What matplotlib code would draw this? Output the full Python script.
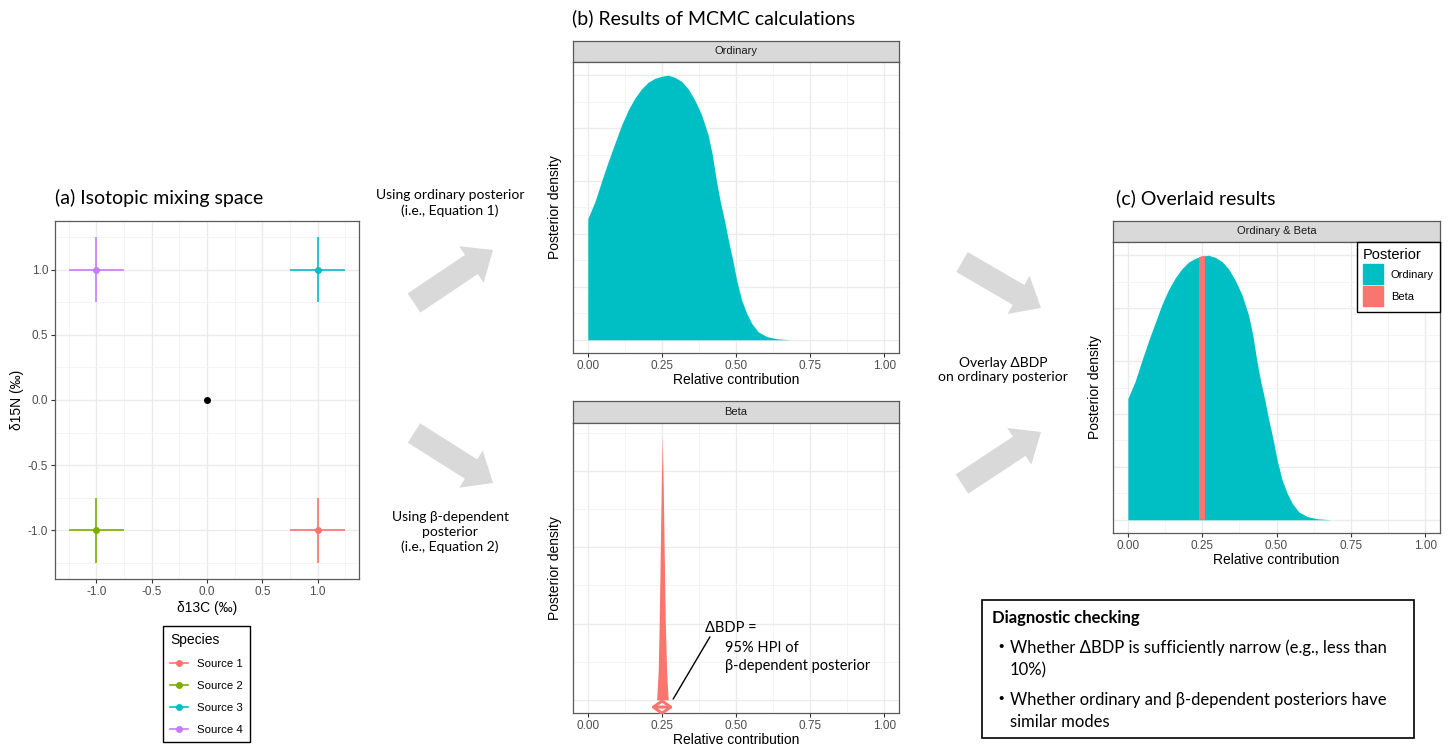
import matplotlib
matplotlib.use("Agg")
import matplotlib.pyplot as plt
from matplotlib.lines import Line2D
from matplotlib.patches import Patch, FancyArrow, Rectangle

# ---- data ----
source_names = ["Source 1", "Source 2", "Source 3", "Source 4"]
source_d13c = [1.0, -1.0, 1.0, -1.0]
source_d15n = [-1.0, -1.0, 1.0, 1.0]
source_sd = [0.25, 0.25, 0.25, 0.25]
source_colors = ["#F8766D", "#7CAE00", "#00BFC4", "#C77CFF"]
mix_d13c = [0.0]
mix_d15n = [0.0]

# ordinary posterior (density in arbitrary units)
ord_x = [0.000, 0.024, 0.046, 0.069, 0.091, 0.114, 0.136, 0.159, 0.181, 0.204,
         0.226, 0.249, 0.271, 0.294, 0.317, 0.339, 0.361, 0.384, 0.406, 0.420,
         0.434, 0.446, 0.461, 0.474, 0.489, 0.502, 0.519, 0.536, 0.553, 0.575,
         0.604, 0.637, 0.682, 0.700]
ord_y = [2.29, 2.61, 2.99, 3.37, 3.71, 4.06, 4.34, 4.57, 4.74, 4.87,
         4.94, 4.98, 5.00, 4.96, 4.88, 4.74, 4.53, 4.25, 3.87, 3.50,
         3.00, 2.64, 2.26, 1.89, 1.51, 1.13, 0.75, 0.50, 0.31, 0.15,
         0.06, 0.02, 0.00, 0.00]

# beta-dependent posterior
beta_x = [0.2320, 0.2342, 0.2376, 0.2410, 0.2444, 0.2477, 0.2511,
          0.2545, 0.2579, 0.2613, 0.2658, 0.2691, 0.2714]
beta_y = [0.0, 2.6, 7.8, 20.9, 38.3, 55.6, 69.1, 55.6, 38.3, 20.9, 7.8, 2.6, 0.0]
beta_hpi = [0.240, 0.260]
bdp_arrow = [0.213, 0.288]

x_ticks = [0.0, 0.25, 0.5, 0.75, 1.0]
x_ticklabels = ["0.00", "0.25", "0.50", "0.75", "1.00"]
iso_ticks = [-1.0, -0.5, 0.0, 0.5, 1.0]
iso_ticklabels = ["-1.0", "-0.5", "0.0", "0.5", "1.0"]

TEAL = "#00BFC4"
SALMON = "#F8766D"
GG = ["Liberation Sans", "DejaVu Sans"]
CAL = ["Lato", "Noto Sans", "Noto Sans CJK JP", "DejaVu Sans"]

W, H = 1449, 744
fig = plt.figure(figsize=(W / 100, H / 100), dpi=100)
fig.patch.set_facecolor("white")


def px_rect(x0, y0, x1, y1):
    return [x0 / W, 1 - y1 / H, (x1 - x0) / W, (y1 - y0) / H]


def gg_panel(ax, xmaj, xmin, ymaj, ymin, show_y=True):
    ax.set_xticks(xmaj)
    ax.set_xticks(xmin, minor=True)
    ax.set_yticks(ymaj)
    ax.set_yticks(ymin, minor=True)
    ax.grid(which="major", color="#EBEBEB", lw=1.0)
    ax.grid(which="minor", color="#F3F3F3", lw=0.6)
    ax.set_axisbelow(True)
    for s in ax.spines.values():
        s.set_color("#5A5A5A")
        s.set_linewidth(0.9)
    ax.tick_params(which="minor", length=0)
    ax.tick_params(which="major", length=3, color="#333333", labelsize=8.5,
                   labelcolor="#4D4D4D", pad=2)
    if not show_y:
        ax.tick_params(axis="y", which="both", length=0, labelleft=False)


def strip(x0, y0, x1, y1, label):
    sax = fig.add_axes(px_rect(x0, y0, x1, y1))
    sax.set_facecolor("#D9D9D9")
    sax.set_xticks([])
    sax.set_yticks([])
    for s in sax.spines.values():
        s.set_color("#5A5A5A")
        s.set_linewidth(0.9)
    sax.text(0.5, 0.5, label, ha="center", va="center", fontsize=8,
             color="#1A1A1A", family=GG)


# ---- overlay for arrows and free text ----
ov = fig.add_axes([0, 0, 1, 1])
ov.set_xlim(0, W)
ov.set_ylim(H, 0)
ov.axis("off")
for (x0, y0, x1, y1) in [(414, 303, 493, 250), (414, 433, 493, 483),
                         (962, 262, 1041, 308), (962, 484, 1041, 432)]:
    ov.add_patch(FancyArrow(x0, y0, x1 - x0, y1 - y0, width=23, head_width=44,
                            head_length=26, length_includes_head=True,
                            color="#D9D9D9", lw=0))
ov.text(450, 203, "Using ordinary posterior\n(i.e., Equation 1)", ha="center",
        va="center", fontsize=10, family=CAL, linespacing=1.25)
ov.text(450, 532, "Using β-dependent\nposterior\n(i.e., Equation 2)", ha="center",
        va="center", fontsize=10, family=CAL, linespacing=1.25)
ov.text(1003, 370, "Overlay ΔBDP\non ordinary posterior", ha="center",
        va="center", fontsize=10, family=CAL, linespacing=1.25)

ov.add_patch(Rectangle((982, 600), 432, 138, fill=False, ec="black", lw=1.2))
ov.text(992, 618, "Diagnostic checking", ha="left", va="center", fontsize=12,
        family=CAL, fontweight="bold")
ov.text(1001, 648, "・", ha="center", va="center", fontsize=14, family=CAL)
ov.text(1010, 648, "Whether ΔBDP is sufficiently narrow (e.g., less than",
        ha="left", va="center", fontsize=12, family=CAL)
ov.text(1010, 670, "10%)", ha="left", va="center", fontsize=12, family=CAL)
ov.text(1001, 700, "・", ha="center", va="center", fontsize=14, family=CAL)
ov.text(1010, 700, "Whether ordinary and β-dependent posteriors have",
        ha="left", va="center", fontsize=12, family=CAL)
ov.text(1010, 722, "similar modes", ha="left", va="center", fontsize=12, family=CAL)

# titles
fig.text(55 / W, 1 - 198 / H, "(a) Isotopic mixing space", ha="left", va="center",
         fontsize=14, family=CAL)
fig.text(572 / W, 1 - 18 / H, "(b) Results of MCMC calculations", ha="left",
         va="center", fontsize=14, family=CAL)
fig.text(1116 / W, 1 - 198 / H, "(c) Overlaid results", ha="left", va="center",
         fontsize=14, family=CAL)

# ---- (a) isotopic mixing space ----
axa = fig.add_axes(px_rect(55, 221, 359, 579))
for i in range(len(source_names)):
    axa.errorbar(source_d13c[i], source_d15n[i], xerr=source_sd[i], yerr=source_sd[i],
                 fmt="o", color=source_colors[i], ms=4, elinewidth=1.2, capsize=0)
axa.plot(mix_d13c, mix_d15n, "o", color="black", ms=4)
axa.set_xlim(-1.375, 1.375)
axa.set_ylim(-1.375, 1.375)
gg_panel(axa, iso_ticks, [-1.25, -0.75, -0.25, 0.25, 0.75, 1.25],
         iso_ticks, [-1.25, -0.75, -0.25, 0.25, 0.75, 1.25])
axa.set_xticklabels(iso_ticklabels, family=GG)
axa.set_yticklabels(iso_ticklabels, family=GG)
axa.set_xlabel("δ13C (‰)", fontsize=10, family=GG, labelpad=2)
axa.set_ylabel("δ15N (‰)", fontsize=10, family=GG, labelpad=3)

handles = [Line2D([0], [0], color=c, marker="o", ms=4, lw=1.2) for c in source_colors]
fig.legend(handles, source_names, loc="upper left",
           bbox_to_anchor=(163 / W, 1 - 626 / H), bbox_transform=fig.transFigure,
           borderaxespad=0, title="Species", alignment="left", frameon=True,
           fancybox=False, edgecolor="black", framealpha=1,
           prop={"family": GG, "size": 8.2}, title_fontproperties={"family": GG, "size": 10},
           handlelength=1.6, labelspacing=1.05, borderpad=0.6)

# ---- (b) ordinary ----
strip(573, 41, 899, 62, "Ordinary")
axb1 = fig.add_axes(px_rect(573, 62, 899, 353))
axb1.fill_between(ord_x, ord_y, color=TEAL, lw=0)
axb1.set_xlim(-0.05, 1.05)
ymax = max(ord_y)
axb1.set_ylim(-0.05 * ymax, 1.05 * ymax)
gg_panel(axb1, x_ticks, [0.125, 0.375, 0.625, 0.875],
         [0, 1, 2, 3, 4, 5], [0.5, 1.5, 2.5, 3.5, 4.5], show_y=False)
axb1.set_xticklabels(x_ticklabels, family=GG)
axb1.set_xlabel("Relative contribution", fontsize=10, family=GG, labelpad=1)
axb1.set_ylabel("Posterior density", fontsize=10, family=GG, labelpad=8)

# ---- (b) beta ----
strip(573, 401, 899, 423, "Beta")
axb2 = fig.add_axes(px_rect(573, 423, 899, 713))
axb2.fill_between(beta_x, beta_y, color=SALMON, lw=0)
axb2.set_xlim(-0.05, 1.05)
bmax = max(beta_y)
axb2.set_ylim(-0.05 * bmax, 1.05 * bmax)
gg_panel(axb2, x_ticks, [0.125, 0.375, 0.625, 0.875],
         [0, 20, 40, 60], [10, 30, 50, 70], show_y=False)
axb2.set_xticklabels(x_ticklabels, family=GG)
axb2.set_xlabel("Relative contribution", fontsize=10, family=GG, labelpad=1)
axb2.set_ylabel("Posterior density", fontsize=10, family=GG, labelpad=8)
axb2.annotate("", xy=(bdp_arrow[0], -1.9), xytext=(bdp_arrow[1], -1.9),
              arrowprops=dict(arrowstyle="<->,head_length=0.55,head_width=0.4",
                              color=SALMON, lw=2.2, mutation_scale=10,
                              shrinkA=0, shrinkB=0),
              annotation_clip=False)
axb2.annotate("", xy=(bdp_arrow[1], 0.2), xytext=(0.412, 16.5),
              arrowprops=dict(arrowstyle="-", color="black", lw=1, shrinkA=0, shrinkB=0))
axb2.text(0.395, 18.8, "ΔBDP =", ha="left", va="center", fontsize=10.5, family=CAL)
axb2.text(0.463, 11.2, "95% HPI of\nβ-dependent posterior", ha="left", va="center",
          fontsize=10.5, family=CAL, linespacing=1.3)

# ---- (c) overlaid ----
strip(1113, 221, 1440, 242, "Ordinary & Beta")
axc = fig.add_axes(px_rect(1113, 242, 1440, 533))
poly = axc.fill_between(ord_x, ord_y, color=TEAL, lw=0)
band = axc.axvspan(beta_hpi[0], beta_hpi[1], color=SALMON, lw=0)
band.set_clip_path(poly.get_paths()[0], axc.transData)
axc.set_xlim(-0.05, 1.05)
axc.set_ylim(-0.05 * ymax, 1.05 * ymax)
gg_panel(axc, x_ticks, [0.125, 0.375, 0.625, 0.875],
         [0, 1, 2, 3, 4, 5], [0.5, 1.5, 2.5, 3.5, 4.5], show_y=False)
axc.set_xticklabels(x_ticklabels, family=GG)
axc.set_xlabel("Relative contribution", fontsize=10, family=GG, labelpad=1)
axc.set_ylabel("Posterior density", fontsize=10, family=GG, labelpad=8)
axc.legend([Patch(color=TEAL), Patch(color=SALMON)], ["Ordinary", "Beta"],
           loc="upper right", bbox_to_anchor=(1, 1), borderaxespad=0,
           title="Posterior", alignment="left", fancybox=False, edgecolor="black",
           framealpha=1, prop={"family": GG, "size": 8},
           title_fontproperties={"family": GG, "size": 10.5},
           handlelength=1.8, handleheight=2.4, labelspacing=0.18, borderpad=0.55,
           handletextpad=0.7)

fig.savefig("out.png", dpi=100)
